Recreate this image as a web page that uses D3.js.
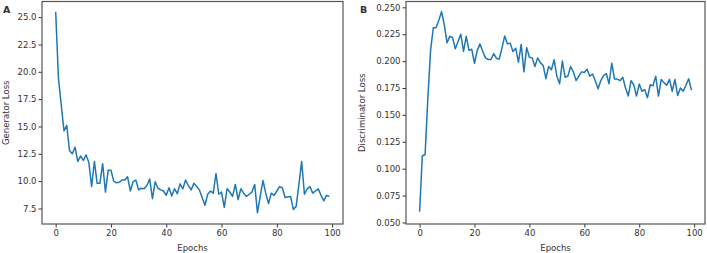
<!DOCTYPE html>
<html>
<head>
<meta charset="utf-8">
<script src="https://cdn.jsdelivr.net/npm/d3@7"></script>
<style>
body { margin: 0; background: #fff; }
svg text { font-family: "DejaVu Sans", sans-serif; fill: #333; }
</style>
</head>
<body>
<div id="chart"></div>
<script>
// generator loss per epoch (panel A)
var genLoss = [25.5, 19.4, 17.0, 14.6, 15.1, 12.8, 12.5, 13.1, 11.8, 12.3,
  11.9, 12.4, 11.7, 9.5, 11.8, 9.8, 9.8, 11.6, 9.0, 11.0,
  11.0, 10.0, 9.85, 9.9, 10.1, 10.1, 10.4, 9.1, 9.95, 10.1,
  9.2, 9.35, 9.3, 9.6, 10.2, 8.4, 9.95, 9.35, 9.2, 9.1,
  8.7, 9.4, 8.65, 9.3, 8.85, 9.75, 9.3, 10.1, 9.6, 9.2,
  9.8, 9.5, 9.2, 8.5, 7.8, 8.8, 9.1, 8.9, 10.7, 8.8,
  9.0, 7.6, 9.3, 9.0, 8.6, 9.7, 8.3, 9.3, 8.9, 8.6,
  8.8, 9.0, 9.7, 7.1, 8.6, 10.06, 8.9, 7.95, 8.9, 8.7,
  9.1, 9.5, 9.4, 8.5, 8.55, 8.6, 7.4, 7.7, 9.7, 11.8,
  8.8, 9.3, 9.5, 8.9, 9.1, 9.3, 8.7, 8.2, 8.7, 8.6];

// discriminator loss per epoch (panel B)
var discLoss = [0.060, 0.112, 0.113, 0.165, 0.210, 0.231, 0.231, 0.238, 0.246, 0.2336,
  0.217, 0.223, 0.222, 0.2114, 0.218, 0.225, 0.209, 0.223, 0.210, 0.211,
  0.198, 0.210, 0.216, 0.209, 0.203, 0.2015, 0.2015, 0.207, 0.2025, 0.202,
  0.212, 0.2234, 0.216, 0.2167, 0.209, 0.212, 0.199, 0.2155, 0.190, 0.2125,
  0.2036, 0.203, 0.195, 0.203, 0.1986, 0.196, 0.1837, 0.195, 0.192, 0.2013,
  0.186, 0.179, 0.200, 0.185, 0.186, 0.195, 0.190, 0.182, 0.186, 0.190,
  0.1895, 0.1924, 0.186, 0.188, 0.1818, 0.1743, 0.1818, 0.1865, 0.1885, 0.179,
  0.198, 0.1833, 0.1833, 0.1818, 0.185, 0.175, 0.1675, 0.1818, 0.178, 0.1675,
  0.1786, 0.172, 0.1735, 0.166, 0.178, 0.177, 0.186, 0.1675, 0.183, 0.180,
  0.1775, 0.183, 0.172, 0.183, 0.168, 0.175, 0.172, 0.1775, 0.1836, 0.173];

var xTicks = [0, 20, 40, 60, 80, 100];
var genTicks = [7.5, 10.0, 12.5, 15.0, 17.5, 20.0, 22.5, 25.0];
var discTicks = [0.050, 0.075, 0.100, 0.125, 0.150, 0.175, 0.200, 0.225, 0.250];

var w = 707, h = 253;
var svg = d3.select("#chart").append("svg")
  .attr("width", w).attr("height", h);

function panel(opts) {
  var x = d3.scaleLinear().domain([-4.95, 103.95]).range([opts.left, opts.right]);
  var y = d3.scaleLinear().domain(opts.yDomain).range([opts.bottom, opts.top]);
  var g = svg.append("g");

  var line = d3.line()
    .x(function(d, i) { return x(i); })
    .y(function(d) { return y(d); });

  g.append("path")
    .datum(opts.data)
    .attr("fill", "none")
    .attr("stroke", "#1f77b4")
    .attr("stroke-width", 1.5)
    .attr("stroke-linejoin", "round")
    .attr("d", line);

  var xAxis = d3.axisBottom(x).tickValues(xTicks).tickSize(3.5).tickPadding(2)
    .tickFormat(d3.format("d"));
  var yAxis = d3.axisLeft(y).tickValues(opts.ticks).tickSize(3.5).tickPadding(2)
    .tickFormat(opts.fmt);

  var gx = g.append("g").attr("transform", "translate(0," + opts.bottom + ")").call(xAxis);
  var gy = g.append("g").attr("transform", "translate(" + opts.left + ",0)").call(yAxis);
  [gx, gy].forEach(function(a) {
    a.select(".domain").remove();
    a.selectAll("line").attr("stroke", "#333");
    a.selectAll("text").style("font-size", "8.5px").attr("fill", "#333");
  });

  // frame
  g.append("rect")
    .attr("x", opts.left).attr("y", opts.top)
    .attr("width", opts.right - opts.left)
    .attr("height", opts.bottom - opts.top)
    .attr("fill", "none").attr("stroke", "#555").attr("stroke-width", 1.2);

  g.append("text")
    .text("Epochs")
    .attr("text-anchor", "middle")
    .style("font-size", "8.5px")
    .attr("x", (opts.left + opts.right) / 2)
    .attr("y", 251);

  g.append("text")
    .text(opts.ylabel)
    .attr("text-anchor", "middle")
    .style("font-size", "8.5px")
    .attr("transform", "translate(" + opts.ylabelX + "," + ((opts.top + opts.bottom) / 2) + ") rotate(-90)");

  g.append("text")
    .text(opts.letter)
    .style("font-size", "9.5px")
    .style("font-weight", "bold")
    .attr("fill", "#000")
    .attr("x", opts.letterX)
    .attr("y", 13);
}

panel({
  data: genLoss, left: 42, right: 343, top: 1.5, bottom: 224,
  yDomain: [6.08, 26.43], ticks: genTicks, fmt: d3.format(".1f"),
  ylabel: "Generator Loss", ylabelX: 9, letter: "A", letterX: 3
});

panel({
  data: discLoss, left: 406, right: 705, top: 1.5, bottom: 224,
  yDomain: [0.0486, 0.2554], ticks: discTicks, fmt: d3.format(".3f"),
  ylabel: "Discriminator Loss", ylabelX: 365, letter: "B", letterX: 360
});
</script>
</body>
</html>
